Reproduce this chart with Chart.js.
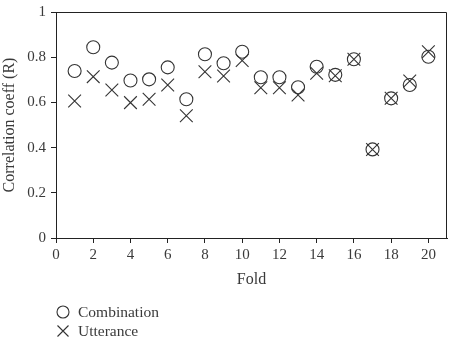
<!DOCTYPE html>
<html>
<head>
<meta charset="utf-8">
<script src="https://cdn.jsdelivr.net/npm/chart.js@4/dist/chart.umd.min.js"></script>
<style>
html,body{margin:0;padding:0;background:#fff;}
#wrap{width:449px;height:338px;position:relative;}
</style>
</head>
<body>
<div id="wrap"><canvas id="c" width="449" height="338"></canvas></div>
<script>
const folds = [1,2,3,4,5,6,7,8,9,10,11,12,13,14,15,16,17,18,19,20];
const combination = [0.739,0.844,0.776,0.697,0.702,0.755,0.614,0.813,0.773,0.824,0.711,0.711,0.667,0.758,0.722,0.791,0.392,0.618,0.677,0.802];
const utterance   = [0.606,0.714,0.655,0.599,0.614,0.677,0.541,0.736,0.717,0.785,0.665,0.665,0.633,0.729,0.718,0.791,0.392,0.618,0.695,0.824];
const xTicks = [0,2,4,6,8,10,12,14,16,18,20];
const yTicks = [0,0.2,0.4,0.6,0.8,1];
const seriesNames = ['Combination','Utterance'];

const FONT = 'Liberation Serif';
const TXT = '#3a3a3a';
const MARK = '#333';

const boxPlugin = {
  id: 'boxPlugin',
  afterDraw(chart) {
    const {ctx, chartArea: a} = chart;
    ctx.save();
    ctx.strokeStyle = '#222';
    ctx.lineWidth = 1;
    ctx.beginPath();
    ctx.moveTo(a.left, a.top + 0.5);
    ctx.lineTo(a.right - 0.5, a.top + 0.5);
    ctx.lineTo(a.right - 0.5, a.bottom);
    ctx.stroke();
    // legend
    const items = chart.data.datasets;
    const x0 = 63, y0 = 312, dy = 19;
    ctx.font = '15.5px "' + FONT + '"';
    ctx.textBaseline = 'middle';
    ctx.textAlign = 'left';
    items.forEach((ds, i) => {
      const y = y0 + i * dy;
      ctx.strokeStyle = MARK;
      ctx.lineWidth = 1.1;
      ctx.beginPath();
      if (ds.pointStyle === 'circle') {
        ctx.arc(x0, y, 6, 0, Math.PI * 2);
      } else {
        const r = 5.5;
        ctx.moveTo(x0 - r, y - r); ctx.lineTo(x0 + r, y + r);
        ctx.moveTo(x0 + r, y - r); ctx.lineTo(x0 - r, y + r);
      }
      ctx.stroke();
      ctx.fillStyle = TXT;
      ctx.fillText(ds.label, x0 + 15, y + 1);
    });
    ctx.restore();
  }
};

new Chart(document.getElementById('c'), {
  type: 'scatter',
  data: {
    datasets: [
      {
        label: seriesNames[0],
        data: folds.map((f, i) => ({x: f, y: combination[i]})),
        pointStyle: 'circle',
        pointRadius: 6.5,
        borderColor: MARK,
        backgroundColor: 'rgba(0,0,0,0)',
        borderWidth: 1.1
      },
      {
        label: seriesNames[1],
        data: folds.map((f, i) => ({x: f, y: utterance[i]})),
        pointStyle: 'crossRot',
        pointRadius: 9,
        borderColor: MARK,
        backgroundColor: 'rgba(0,0,0,0)',
        borderWidth: 1.1
      }
    ]
  },
  options: {
    responsive: false,
    animation: false,
    devicePixelRatio: 1,
    layout: {autoPadding: false, padding: {top: 12, right: 2, left: 0, bottom: 48}},
    plugins: {legend: {display: false}, tooltip: {enabled: false}},
    scales: {
      x: {
        type: 'linear', min: 0, max: 21,
        afterBuildTicks: s => { s.ticks = xTicks.map(v => ({value: v})); },
        afterFit: s => { s.height = 52; s.paddingLeft = 0; s.paddingRight = 0; },
        grid: {drawOnChartArea: false, drawTicks: true, tickLength: 5, color: '#222'},
        border: {display: true, color: '#222', width: 1},
        ticks: {font: {family: FONT, size: 15}, color: TXT, padding: 3, maxRotation: 0},
        title: {display: true, text: 'Fold', font: {family: FONT, size: 16}, color: TXT, padding: {top: 0, bottom: 1}}
      },
      y: {
        type: 'linear', min: 0, max: 1,
        afterBuildTicks: s => { s.ticks = yTicks.map(v => ({value: v})); },
        afterFit: s => { s.width = 56; s.paddingTop = 0; s.paddingBottom = 0; },
        grid: {drawOnChartArea: false, drawTicks: true, tickLength: 5, color: '#222'},
        border: {display: true, color: '#222', width: 1},
        ticks: {font: {family: FONT, size: 15}, color: TXT, padding: 5, callback: v => String(v)},
        title: {display: true, text: 'Correlation coeff (R)', font: {family: FONT, size: 16}, color: TXT, padding: {top: 0, bottom: 0}}
      }
    }
  },
  plugins: [boxPlugin]
});
</script>
</body>
</html>
